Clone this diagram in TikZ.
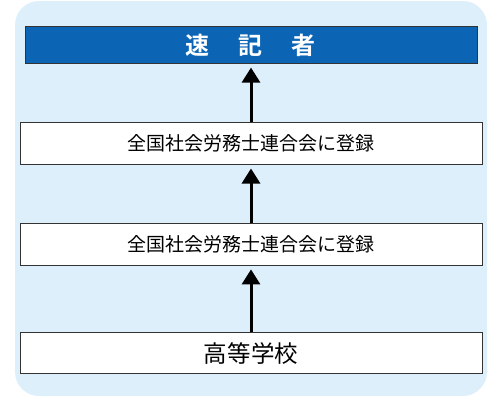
\documentclass[tikz,border=0pt]{standalone}
\usepackage{fontspec}
\usepackage{tikz}
\usetikzlibrary{matrix,arrows.meta}
\newfontfamily\jpfont[BoldFont={Noto Sans CJK JP Bold}]{Noto Sans CJK JP}
\definecolor{panelblue}{HTML}{DEEFFC}
\definecolor{titleblue}{HTML}{0B64B4}
\definecolor{boxline}{HTML}{333333}

\begin{document}
\begin{tikzpicture}[x=1pt,y=1pt]
	\useasboundingbox (0,0) rectangle (500,-400);
	\fill[panelblue, rounded corners=24pt] (15,-1) rectangle (487,-396);
	\matrix (m) [matrix of nodes, row sep=58.5pt, at={(251,-200)},
		nodes={draw=boxline, fill=white, minimum width=462pt, minimum height=42pt,
			font=\jpfont\fontsize{19}{19}\selectfont}]
	{
		|[fill=titleblue, text=white, minimum width=452pt, minimum height=37pt, font=\jpfont\bfseries\fontsize{24}{24}\selectfont]| 速\hspace{29pt}記\hspace{29pt}者 \\
		全国社会労務士連合会に登録 \\
		全国社会労務士連合会に登録 \\[8.5pt]
		|[minimum height=41pt, font=\jpfont\fontsize{23.5}{23.5}\selectfont]| 高等学校 \\
	};
	\path[-{Triangle[width=18pt,length=15pt]}, line width=3pt, shorten >=4pt]
	(m-2-1) edge (m-1-1)
	(m-3-1) edge (m-2-1)
	(m-4-1) edge (m-3-1)
	;
\end{tikzpicture}
\end{document}
